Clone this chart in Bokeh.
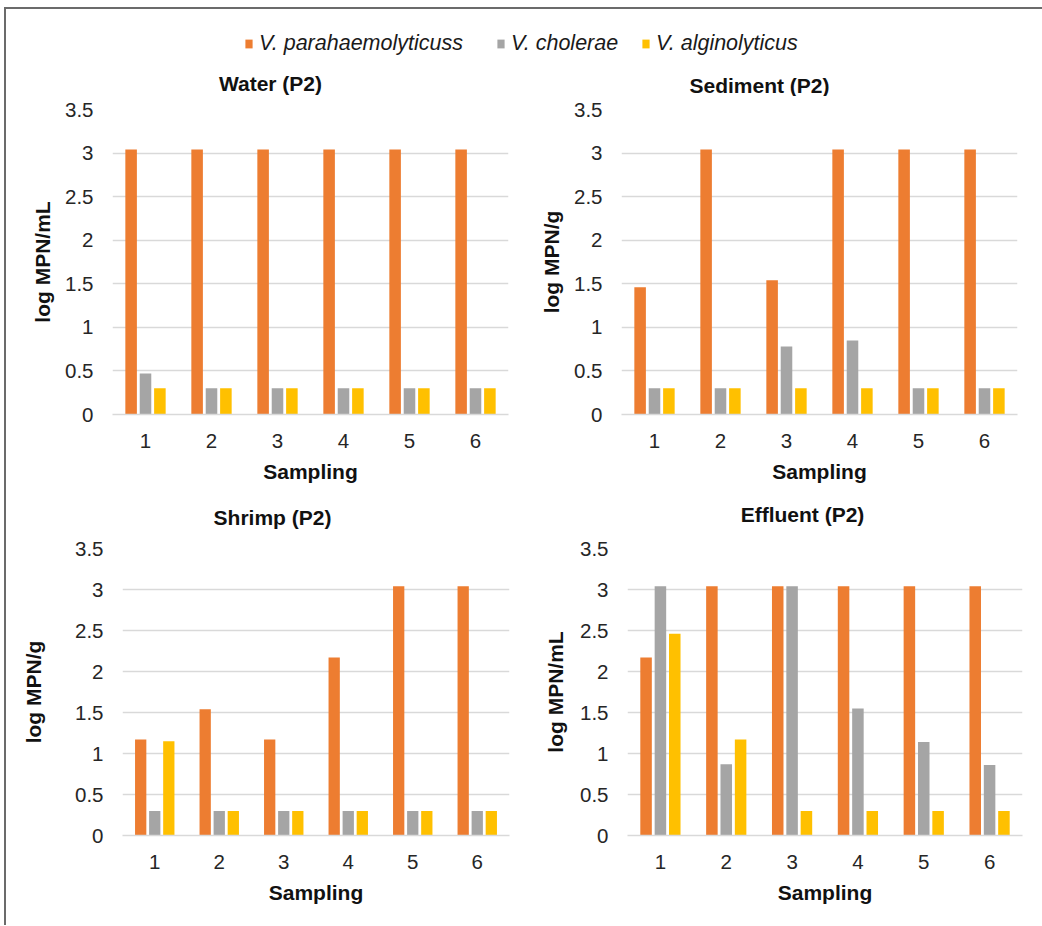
from bokeh.plotting import figure
from bokeh.models import (FactorRange, Range1d, FixedTicker, CustomJSTickFormatter,
                          ColumnDataSource, Legend, LegendItem, Label)
from bokeh.transform import dodge
from bokeh.layouts import column, row
from bokeh.embed import file_html
from bokeh.resources import INLINE

# ---------------- data ----------------
samplings = ["1", "2", "3", "4", "5", "6"]
series_names = ["V. parahaemolyticuss", "V. cholerae", "V. alginolyticus"]
colors = ["#ED7D31", "#A5A5A5", "#FFC000"]
y_ticks = [0, 0.5, 1, 1.5, 2, 2.5, 3, 3.5]
panel_titles = ["Water (P2)", "Sediment (P2)", "Shrimp (P2)", "Effluent (P2)"]

water_para = [3.04, 3.04, 3.04, 3.04, 3.04, 3.04]
water_chol = [0.47, 0.30, 0.30, 0.30, 0.30, 0.30]
water_algi = [0.30, 0.30, 0.30, 0.30, 0.30, 0.30]

sediment_para = [1.46, 3.04, 1.54, 3.04, 3.04, 3.04]
sediment_chol = [0.30, 0.30, 0.78, 0.85, 0.30, 0.30]
sediment_algi = [0.30, 0.30, 0.30, 0.30, 0.30, 0.30]

shrimp_para = [1.17, 1.54, 1.17, 2.17, 3.04, 3.04]
shrimp_chol = [0.30, 0.30, 0.30, 0.30, 0.30, 0.30]
shrimp_algi = [1.15, 0.30, 0.30, 0.30, 0.30, 0.30]

effluent_para = [2.17, 3.04, 3.04, 3.04, 3.04, 3.04]
effluent_chol = [3.04, 0.87, 3.04, 1.55, 1.14, 0.86]
effluent_algi = [2.46, 1.17, 0.30, 0.30, 0.30, 0.30]

FONT = "Liberation Sans"
TXT = "#262626"
OFFSETS = [-0.218, 0.0, 0.218]
BAR_W = 0.175


def panel(ylabel, para, chol, algi, width, height, bl, br, bt, bb, ylab_standoff):
    src = ColumnDataSource(dict(s=samplings, para=para, chol=chol, algi=algi))
    p = figure(x_range=FactorRange(*samplings), y_range=Range1d(0, 3.5),
               width=width, height=height, output_backend="svg",
               toolbar_location=None, min_border_left=bl, min_border_right=br,
               min_border_top=bt, min_border_bottom=bb)
    for key, off, c in zip(["para", "chol", "algi"], OFFSETS, colors):
        p.vbar(x=dodge("s", off, range=p.x_range), top=key, width=BAR_W,
               source=src, fill_color=c, line_color=None)
    p.outline_line_color = None
    p.background_fill_color = "white"
    p.border_fill_color = "white"

    p.xgrid.grid_line_color = None
    p.ygrid.grid_line_color = "#D9D9D9"
    p.ygrid.grid_line_width = 1.3

    p.yaxis.ticker = FixedTicker(ticks=y_ticks)
    p.yaxis.formatter = CustomJSTickFormatter(code="return tick.toString();")
    p.yaxis.axis_line_color = None
    p.yaxis.major_tick_line_color = None
    p.yaxis.minor_tick_line_color = None
    p.yaxis.major_tick_in = 0
    p.yaxis.major_tick_out = 0
    p.yaxis.major_label_standoff = 19
    p.yaxis.axis_label = ylabel
    p.yaxis.axis_label_standoff = ylab_standoff

    p.xaxis.axis_line_color = "#D9D9D9"
    p.xaxis.axis_line_width = 1.3
    p.xaxis.major_tick_line_color = None
    p.xaxis.minor_tick_line_color = None
    p.xaxis.major_tick_in = 0
    p.xaxis.major_tick_out = 0
    p.xaxis.major_label_standoff = 19
    p.xaxis.axis_label = "Sampling"
    p.xaxis.axis_label_standoff = 9

    for ax in (p.xaxis, p.yaxis):
        ax.major_label_text_font = FONT
        ax.major_label_text_font_size = "20.5px"
        ax.major_label_text_color = TXT
        ax.axis_label_text_font = FONT
        ax.axis_label_text_font_size = "21px"
        ax.axis_label_text_font_style = "bold"
        ax.axis_label_text_color = "#111111"
    return p


def strip(height):
    s = figure(x_range=Range1d(0, 1), y_range=Range1d(0, 1), width=1036, height=height,
               output_backend="svg", toolbar_location=None,
               x_axis_location=None, y_axis_location=None,
               min_border_left=0, min_border_right=0, min_border_top=0, min_border_bottom=0)
    s.outline_line_color = None
    s.xgrid.grid_line_color = None
    s.ygrid.grid_line_color = None
    return s


def title_label(fig, text, x, y):
    fig.add_layout(Label(x=x, y=y, x_units="screen", y_units="screen",
                         text=text, text_align="center", text_baseline="middle",
                         text_font=FONT, text_font_size="21px", text_font_style="bold",
                         text_color="#111111"))


p_water = panel("log MPN/mL", water_para, water_chol, water_algi,
                514, 394, 106, 12, 13, 76, 8)
p_sed = panel("log MPN/g", sediment_para, sediment_chol, sediment_algi,
              502, 394, 101, 5, 13, 76, 8)
p_shrimp = panel("log MPN/g", shrimp_para, shrimp_chol, shrimp_algi,
                 514, 392, 116, 11, 15, 90, 27)
p_eff = panel("log MPN/mL", effluent_para, effluent_chol, effluent_algi,
              507, 392, 107, 5, 13, 87, 10)

# ---------------- top strip: legend + titles of the upper charts ----------------
top = strip(87)
leg_src = ColumnDataSource(dict(s=[0.5, 0.5, 0.5], v=[-1.0, -1.0, -1.0]))
legend_x = [238, 490, 635]
for name, c, lx in zip(series_names, colors, legend_x):
    r = top.vbar(x="s", top="v", bottom="v", width=0.01, source=leg_src,
                 fill_color=c, line_color=None)
    top.add_layout(Legend(items=[LegendItem(label=name, renderers=[r])],
                          orientation="horizontal", location=(lx, 40),
                          glyph_width=9, glyph_height=11, label_standoff=6,
                          padding=0, margin=0, border_line_color=None,
                          background_fill_alpha=0, label_text_font=FONT,
                          label_text_font_size="21.5px", label_text_font_style="italic",
                          label_text_color="#1a1a1a"), "center")
title_label(top, panel_titles[0], 264, 13)
title_label(top, panel_titles[1], 753, 11.5)

# ---------------- middle strip: titles of the lower charts ----------------
mid = strip(43)
title_label(mid, panel_titles[2], 266, 16)
title_label(mid, panel_titles[3], 796, 19)

layout = column(top, row(p_water, p_sed), mid, row(p_shrimp, p_eff),
                margin=(7, 0, 0, 4),
                styles={"border-left": "2px solid #6b6b6b", "border-top": "2px solid #6b6b6b"})

open("out.html", "w").write(file_html(layout, INLINE))
